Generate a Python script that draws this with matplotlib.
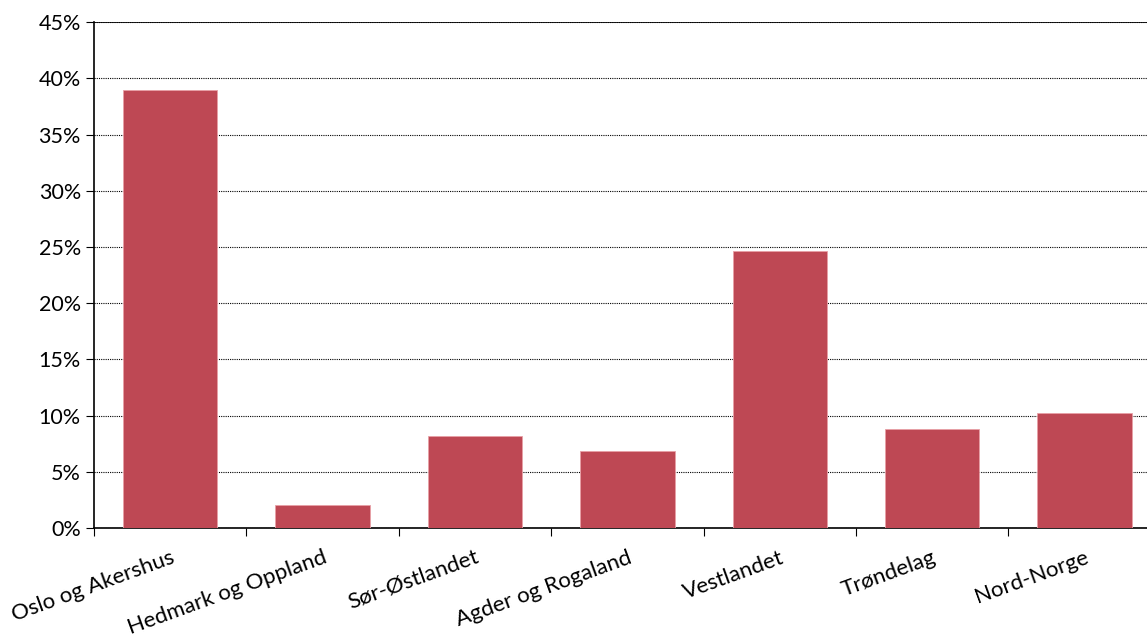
import numpy as np
import matplotlib.pyplot as plt
from matplotlib.ticker import PercentFormatter

plt.rcParams['font.family'] = ['Lato', 'DejaVu Sans']

#regions and share (in %)
regions = ["Oslo og Akershus", "Hedmark og Oppland", "Sør-Østlandet",
           "Agder og Rogaland", "Vestlandet", "Trøndelag", "Nord-Norge"]
share = [39.0, 2.0, 8.2, 6.8, 24.6, 8.8, 10.2]
yticks = [0, 5, 10, 15, 20, 25, 30, 35, 40, 45]

fig = plt.figure(figsize=(11.47, 6.36), dpi=100)
ax = fig.add_axes([0.082, 0.17, 0.93, 0.795])

x = np.arange(len(regions))
ax.bar(x, share, width=0.62, color="#BE4854", edgecolor="#E8A0A6", linewidth=0.6, zorder=3)

ax.set_xlim(-0.5, len(regions) - 0.5)
ax.set_ylim(0, 45)
ax.set_yticks(yticks)
ax.yaxis.set_major_formatter(PercentFormatter(decimals=0))
ax.grid(axis="y", color="black", linestyle=(0, (1, 1)), linewidth=0.8, zorder=0)

#ticks between categories, labels at centres
ax.set_xticks(np.arange(-0.5, len(regions)), minor=False)
ax.set_xticklabels([])
ax.set_xticks(x, minor=True)
ax.set_xticklabels(regions, minor=True, rotation=20, ha="right",
                   rotation_mode="anchor", fontsize=16)
ax.tick_params(axis="x", which="minor", length=0, pad=14)
ax.tick_params(axis="x", which="major", length=6, direction="out")
ax.tick_params(axis="y", length=6, direction="out", labelsize=15.5)

for s in ["top", "right"]:
    ax.spines[s].set_visible(False)
ax.axhline(45, color="black", linewidth=1.2, zorder=4)
ax.spines["left"].set_linewidth(1.2)
ax.spines["bottom"].set_linewidth(1.2)

fig.savefig("out.png", dpi=100)
